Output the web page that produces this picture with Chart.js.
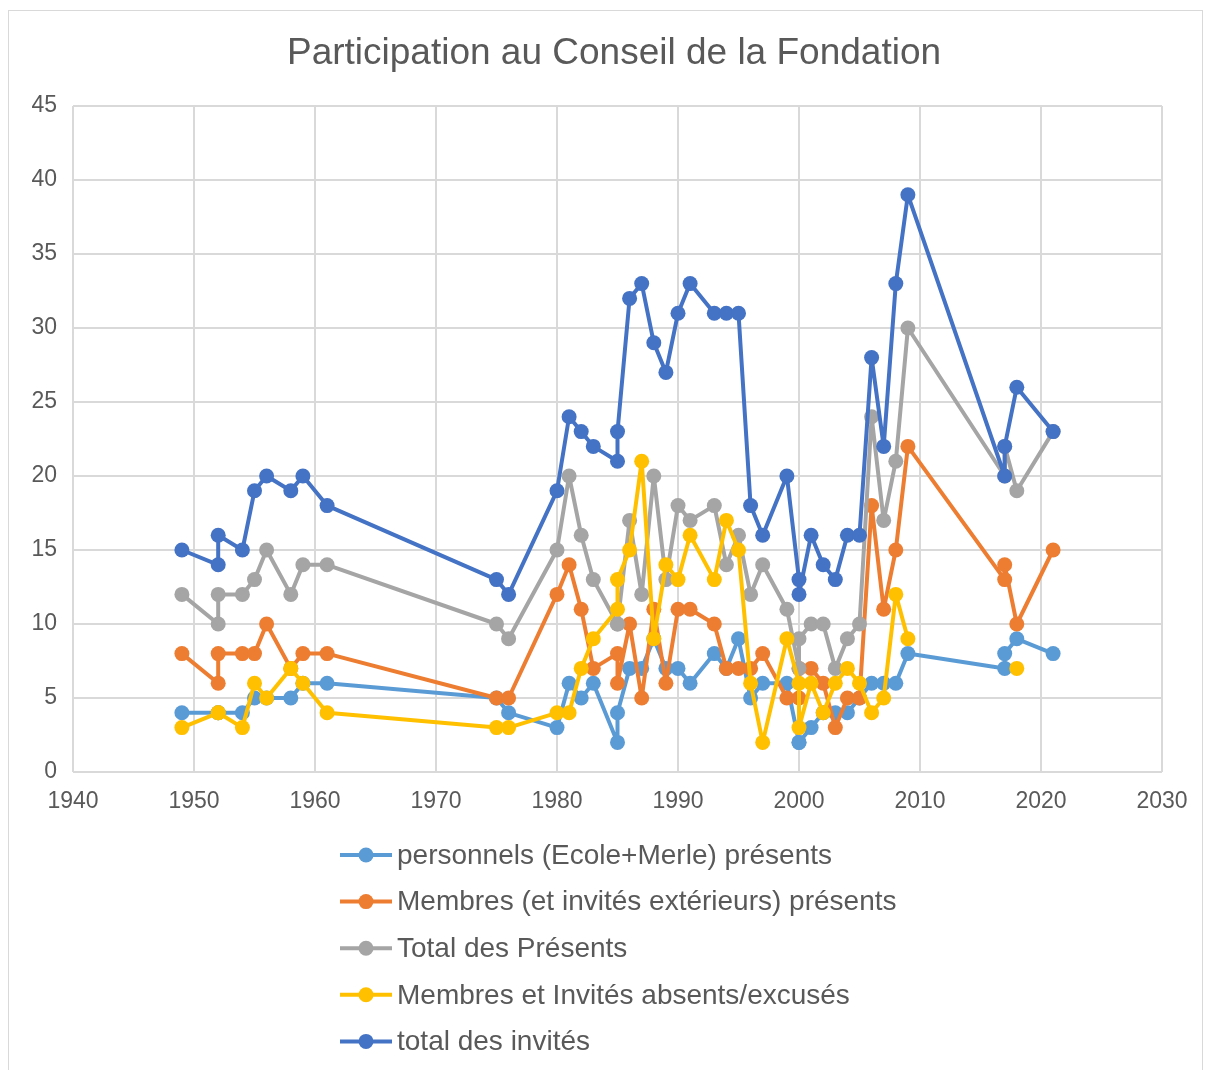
<!doctype html>
<html lang="fr">
  <head>
    <meta charset="UTF-8" />
    <title>Participation au Conseil de la Fondation</title>
    <script src="https://cdn.jsdelivr.net/npm/chart.js"></script>
    <style>
      body {
        margin: 0;
        background: #ffffff;
        font-family: "Liberation Sans", Arial, sans-serif;
      }

      .frame {
        position: absolute;
        left: 8px;
        top: 10px;
        width: 1195px;
        height: 1070px;
        border: 1px solid #d9d9d9;
        box-sizing: border-box;
      }

      .chart-box {
        position: absolute;
        left: 0;
        top: 0;
        width: 1207px;
        height: 1070px;
      }
    </style>
  </head>
  <body>
    <div class="frame"></div>
    <div class="chart-box">
      <canvas id="conseilChart"></canvas>
    </div>

    <script>
      // Annees des seances (deux seances en 1952, 1985, 2000 et 2017)
      const years = [
        1949, 1952, 1952, 1954, 1955, 1956, 1958, 1959, 1961, 1975, 1976,
        1980, 1981, 1982, 1983, 1985, 1985, 1986, 1987, 1988, 1989, 1990,
        1991, 1993, 1994, 1995, 1996, 1997, 1999, 2000, 2000, 2001, 2002,
        2003, 2004, 2005, 2006, 2007, 2008, 2009, 2017, 2017, 2018, 2021
      ];

      const personnels = [
        4, 4, 4, 4, 5, 5, 5, 6, 6, 5, 4,
        3, 6, 5, 6, 2, 4, 7, 7, 9, 7, 7,
        6, 8, 7, 9, 5, 6, 6, 2, 2, 3, 4,
        4, 4, 5, 6, 6, 6, 8, 7, 8, 9, 8
      ];

      const membres = [
        8, 6, 8, 8, 8, 10, 7, 8, 8, 5, 5,
        12, 14, 11, 7, 8, 6, 10, 5, 11, 6, 11,
        11, 10, 7, 7, 7, 8, 5, 5, 7, 7, 6,
        3, 5, 5, 18, 11, 15, 22, 13, 14, 10, 15
      ];

      const totalPresents = [
        12, 10, 12, 12, 13, 15, 12, 14, 14, 10, 9,
        15, 20, 16, 13, 10, 10, 17, 12, 20, 13, 18,
        17, 18, 14, 16, 12, 14, 11, 7, 9, 10, 10,
        7, 9, 10, 24, 17, 21, 30, 20, 22, 19, 23
      ];

      // pas de donnees d'absents en 2017 et 2021
      const absents = [
        3, 4, 4, 3, 6, 5, 7, 6, 4, 3, 3,
        4, 4, 7, 9, 11, 13, 15, 21, 9, 14, 13,
        16, 13, 17, 15, 6, 2, 9, 6, 3, 6, 4,
        6, 7, 6, 4, 5, 12, 9, null, null, 7, null
      ];

      const totalInvites = [
        15, 14, 16, 15, 19, 20, 19, 20, 18, 13, 12,
        19, 24, 23, 22, 21, 23, 32, 33, 29, 27, 31,
        33, 31, 31, 31, 18, 16, 20, 13, 12, 16, 14,
        13, 16, 16, 28, 22, 33, 39, 20, 22, 26, 23
      ];

      const textColor = "#595959";
      const fontFamily = "'Liberation Sans', Arial, sans-serif";

      function points(values) {
        return years.map((x, i) => ({ x: x, y: values[i] }));
      }

      function series(label, values, color, order) {
        return {
          label: label,
          data: points(values),
          borderColor: color,
          backgroundColor: color,
          pointBackgroundColor: color,
          pointBorderColor: color,
          borderWidth: 4,
          borderJoinStyle: "round",
          borderCapStyle: "round",
          pointRadius: 7.5,
          pointBorderWidth: 0,
          showLine: true,
          spanGaps: false,
          tension: 0,
          order: order
        };
      }

      // Legende en colonne sous le graphique, comme dans Excel
      const columnLegend = {
        id: "columnLegend",
        afterDraw(chart) {
          const ctx = chart.ctx;
          const top = chart.chartArea.bottom + 83;
          ctx.save();
          ctx.font = "28px " + fontFamily;
          ctx.textBaseline = "middle";
          ctx.textAlign = "left";
          chart.data.datasets.forEach((ds, i) => {
            const y = top + i * 46.6;
            ctx.strokeStyle = ds.borderColor;
            ctx.lineWidth = 4;
            ctx.beginPath();
            ctx.moveTo(340, y);
            ctx.lineTo(392, y);
            ctx.stroke();
            ctx.fillStyle = ds.borderColor;
            ctx.beginPath();
            ctx.arc(366, y, 7.5, 0, Math.PI * 2);
            ctx.fill();
            ctx.fillStyle = textColor;
            ctx.fillText(ds.label, 397, y + 1);
          });
          ctx.restore();
        }
      };

      const ctx = document.getElementById("conseilChart").getContext("2d");
      const conseilChart = new Chart(ctx, {
        type: "scatter",
        data: {
          datasets: [
            series("personnels (Ecole+Merle) présents", personnels, "#5B9BD5", 4),
            series("Membres (et invités extérieurs) présents", membres, "#ED7D31", 3),
            series("Total des Présents", totalPresents, "#A5A5A5", 2),
            series("Membres et Invités absents/excusés", absents, "#FFC000", 1),
            series("total des invités", totalInvites, "#4472C4", 0)
          ]
        },
        options: {
          responsive: true,
          maintainAspectRatio: false,
          animation: false,
          layout: {
            padding: { top: 0, left: 21, right: 0, bottom: 238 }
          },
          plugins: {
            legend: { display: false },
            tooltip: { enabled: false },
            title: {
              display: true,
              text: "Participation au Conseil de la Fondation",
              color: textColor,
              font: { family: fontFamily, size: 37, weight: "normal" },
              padding: { top: 32, bottom: 29.6 }
            }
          },
          scales: {
            x: {
              type: "linear",
              min: 1940,
              max: 2030,
              ticks: {
                stepSize: 10,
                color: textColor,
                padding: 16,
                font: { family: fontFamily, size: 23 },
                callback: (v) => String(v)
              },
              grid: { color: "#d9d9d9", lineWidth: 2, drawTicks: false },
              border: { display: false },
              afterFit(scale) {
                scale.height = 60;
                scale.paddingRight = 45;
              }
            },
            y: {
              min: 0,
              max: 45,
              ticks: {
                stepSize: 5,
                color: textColor,
                padding: 16,
                font: { family: fontFamily, size: 23 }
              },
              grid: { color: "#d9d9d9", lineWidth: 2, drawTicks: false },
              border: { display: false },
              afterFit(scale) {
                scale.width = 52;
              }
            }
          }
        },
        plugins: [columnLegend]
      });
    </script>
  </body>
</html>
